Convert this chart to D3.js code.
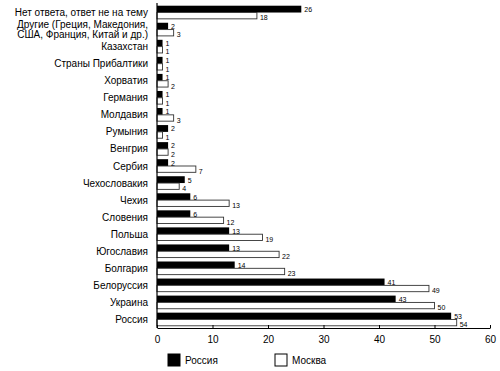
<!DOCTYPE html>
<html>
<head>
<meta charset="utf-8">
<script src="https://cdn.jsdelivr.net/npm/d3@7"></script>
<style>
	body { margin: 0; background: #fff; }
	text { font-family: "Liberation Sans", Arial, sans-serif; fill: #000; }
</style>
</head>
<body>
<div class="viz"></div>
<script>
let categories = [
	["Нет ответа, ответ не на тему"],
	["Другие (Греция, Македония,", "США, Франция, Китай и др.)"],
	["Казахстан"],
	["Страны Прибалтики"],
	["Хорватия"],
	["Германия"],
	["Молдавия"],
	["Румыния"],
	["Венгрия"],
	["Сербия"],
	["Чехословакия"],
	["Чехия"],
	["Словения"],
	["Польша"],
	["Югославия"],
	["Болгария"],
	["Белоруссия"],
	["Украина"],
	["Россия"]
];
let russia = [26, 2, 1, 1, 1, 1, 1, 2, 2, 2, 5, 6, 6, 13, 13, 14, 41, 43, 53];
let moscow = [18, 3, 1, 1, 2, 1, 3, 1, 2, 7, 4, 13, 12, 19, 22, 23, 49, 50, 54];
let xTicks = [0, 10, 20, 30, 40, 50, 60];
let seriesNames = ["Россия", "Москва"];

let width = 500, height = 371;

let svg = d3.select('.viz').append('svg')
	.attr('width', width)
	.attr('height', height);

let x = d3.scaleLinear()
	.domain([0, 60])
	.range([157, 490]);

let y = d3.scaleBand()
	.domain(d3.range(categories.length))
	.range([4, 328])
	.paddingInner(0.2)
	.paddingOuter(0.1);

let half = y.bandwidth() / 2;

// category labels
let labels = svg.append('g').selectAll('text')
	.data(categories)
	.enter().append('text')
	.attr('text-anchor', 'end')
	.attr('font-size', 10)
	.attr('x', 148)
	.attr('y', function(d, i) { return y(i) + half; });

labels.selectAll('tspan')
	.data(function(d) { return d.map(function(t, j) { return {t: t, j: j, n: d.length}; }); })
	.enter().append('tspan')
	.attr('x', 148)
	.attr('dy', function(d) {
		if (d.j == 0) return (0.35 - (d.n - 1) * 0.48) + 'em';
		return '0.96em';
	})
	.text(function(d) { return d.t; });

// bars
let rows = svg.append('g').selectAll('g')
	.data(categories)
	.enter().append('g');

rows.append('rect')
	.attr('x', x(0))
	.attr('y', function(d, i) { return y(i); })
	.attr('width', function(d, i) { return x(russia[i]) - x(0); })
	.attr('height', half)
	.attr('fill', '#000');

rows.append('rect')
	.attr('x', x(0))
	.attr('y', function(d, i) { return y(i) + half; })
	.attr('width', function(d, i) { return x(moscow[i]) - x(0); })
	.attr('height', half - 0.5)
	.attr('fill', '#fff')
	.attr('stroke', '#333')
	.attr('stroke-width', 0.9);

// value labels (small, stacked like the original)
rows.append('text')
	.attr('font-size', 7)
	.attr('x', function(d, i) { return x(russia[i]) + 3; })
	.attr('y', function(d, i) { return y(i) + half - 0.5; })
	.text(function(d, i) { return russia[i]; });

rows.append('text')
	.attr('font-size', 7)
	.attr('x', function(d, i) { return x(moscow[i]) + 3; })
	.attr('y', function(d, i) { return y(i) + 2 * half + 1; })
	.text(function(d, i) { return moscow[i]; });

// axes
svg.append('line')
	.attr('x1', x(0)).attr('x2', x(0))
	.attr('y1', 3).attr('y2', 328)
	.attr('stroke', '#000')
	.attr('stroke-width', 1.2);

let xAxis = svg.append('g')
	.attr('transform', 'translate(0,328)')
	.call(d3.axisBottom(x).tickValues(xTicks).tickSizeInner(-3).tickSizeOuter(0).tickPadding(8));

xAxis.selectAll('text')
	.attr('font-size', 10)
	.style('font-family', '"Liberation Sans", Arial, sans-serif');
xAxis.select('.domain').attr('stroke-width', 1.2);

// legend
let legend = svg.append('g').selectAll('g')
	.data(seriesNames)
	.enter().append('g')
	.attr('transform', function(d, i) { return 'translate(' + (168 + i * 107) + ',354)'; });

legend.append('rect')
	.attr('width', 12)
	.attr('height', 12)
	.attr('fill', function(d, i) { return i == 0 ? '#000' : '#fff'; })
	.attr('stroke', '#000')
	.attr('stroke-width', 1);

legend.append('text')
	.attr('x', 17)
	.attr('y', 10)
	.attr('font-size', 10)
	.text(function(d) { return d; });
</script>
</body>
</html>
